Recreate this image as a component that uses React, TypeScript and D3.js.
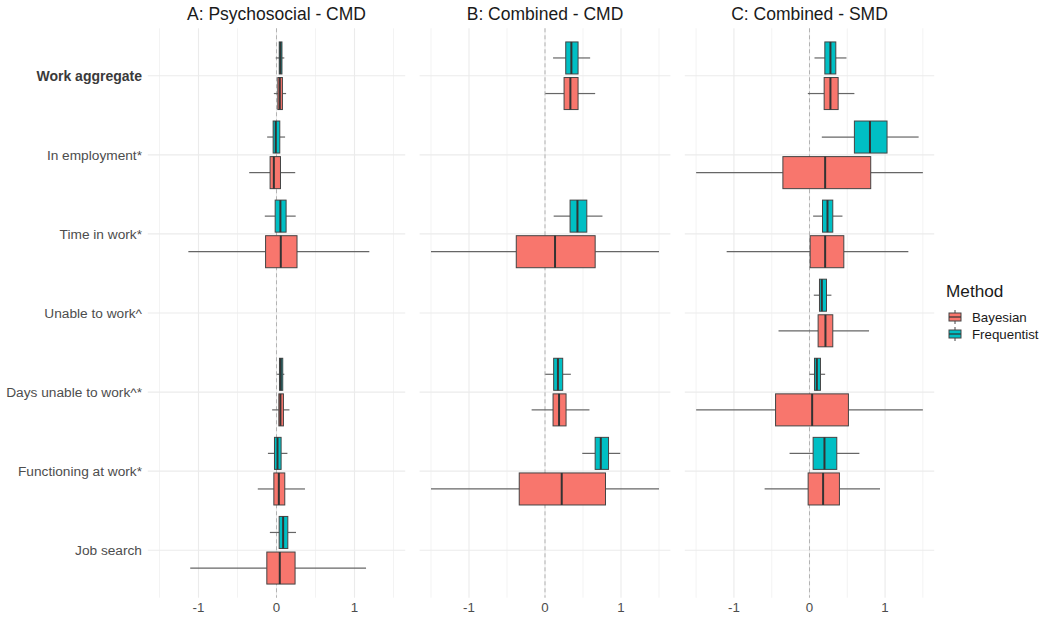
import React from 'react';
import * as d3 from 'd3';

// categories (top to bottom) and facets
const categories = [
  'Work aggregate',
  'In employment*',
  'Time in work*',
  'Unable to work^',
  'Days unable to work^*',
  'Functioning at work*',
  'Job search',
];
const panelTitles = ['A: Psychosocial - CMD', 'B: Combined - CMD', 'C: Combined - SMD'];
const methods = ['Bayesian', 'Frequentist'];
const methodColors = ['#F8766D', '#00BFC4'];
const xTicks = [-1, 0, 1];
const xMinor = [-1.5, -0.5, 0.5, 1.5];

// [min, q1, median, q3, max] per category, null = no estimate
type Box = [number, number, number, number, number] | null;

const psychBayesian: Box[] = [
  [-0.034, 0.017, 0.042, 0.076, 0.123],
  [-0.35, -0.082, -0.034, 0.051, 0.24],
  [-1.13, -0.14, 0.055, 0.263, 1.19],
  null,
  [-0.056, 0.03, 0.05, 0.089, 0.166],
  [-0.24, -0.034, 0.03, 0.106, 0.365],
  [-1.106, -0.124, 0.042, 0.238, 1.148],
];
const psychFrequentist: Box[] = [
  [-0.01, 0.035, 0.05, 0.07, 0.1],
  [-0.12, -0.043, -0.009, 0.042, 0.11],
  [-0.15, -0.017, 0.05, 0.123, 0.246],
  null,
  [0.008, 0.038, 0.055, 0.08, 0.1],
  [-0.11, -0.026, 0.013, 0.059, 0.14],
  [-0.085, 0.034, 0.085, 0.145, 0.25],
];
const cmdBayesian: Box[] = [
  [0.004, 0.251, 0.334, 0.435, 0.66],
  null,
  [-1.5, -0.378, 0.132, 0.66, 1.5],
  null,
  [-0.176, 0.106, 0.185, 0.277, 0.585],
  [-1.5, -0.339, 0.22, 0.796, 1.5],
  null,
];
const cmdFrequentist: Box[] = [
  [0.106, 0.273, 0.347, 0.435, 0.594],
  null,
  [0.114, 0.33, 0.427, 0.55, 0.756],
  null,
  [0.004, 0.114, 0.17, 0.233, 0.34],
  [0.49, 0.66, 0.734, 0.836, 0.99],
  null,
];
const smdBayesian: Box[] = [
  [-0.022, 0.194, 0.277, 0.379, 0.594],
  [-1.5, -0.352, 0.207, 0.81, 1.5],
  [-1.096, 0.009, 0.207, 0.454, 1.308],
  [-0.41, 0.114, 0.211, 0.308, 0.788],
  [-1.5, -0.449, 0.035, 0.515, 1.5],
  [-0.594, -0.018, 0.18, 0.396, 0.933],
  null,
];
const smdFrequentist: Box[] = [
  [0.066, 0.203, 0.277, 0.348, 0.489],
  [0.163, 0.594, 0.8, 1.026, 1.444],
  [0.048, 0.172, 0.238, 0.308, 0.436],
  [0.057, 0.132, 0.163, 0.225, 0.29],
  [0, 0.066, 0.097, 0.145, 0.207],
  [-0.264, 0.048, 0.198, 0.361, 0.66],
  null,
];

const panelData = [
  [psychBayesian, psychFrequentist],
  [cmdBayesian, cmdFrequentist],
  [smdBayesian, smdFrequentist],
];

const W = 1046;
const H = 617;
const font = '"Liberation Sans", Arial, Helvetica, sans-serif';
// measured panel extents (px)
const panelX: [number, number][] = [[147.8, 405.2], [419.6, 670.4], [684.8, 934.2]];
const panelTop = 28.3;
const panelBottom = 597.7;

const App: React.FC = () => {
  const y = d3.scalePoint<string>().domain(categories).range([panelTop, panelBottom]).padding(0.6);
  const step = y.step();
  const boxH = step * 0.405;
  const dodge = step * 0.225;

  return (
    <svg width={W} height={H} style={{ position: 'absolute', left: 0, top: 0, background: '#fff' }} fontFamily={font}>
      {/* y axis labels */}
      {categories.map((c, i) => (
        <text key={c} x={142} y={y(c)} dy="0.35em" textAnchor="end" fontSize={i === 0 ? 14 : 13.7}
          fill={i === 0 ? '#3A3A3A' : '#4D4D4D'} fontWeight={i === 0 ? 'bold' : 'normal'}>{c}</text>
      ))}

      {panelTitles.map((title, p) => {
        const x = d3.scaleLinear().domain([-1.65, 1.65]).range(panelX[p]);
        const [x0, x1] = panelX[p];
        return (
          <g key={title}>
            <text x={(x0 + x1) / 2} y={20} textAnchor="middle" fontSize={17.5} fill="#1A1A1A">{title}</text>
            {/* grid */}
            {xMinor.map(t => (
              <line key={'m' + t} x1={x(t)} x2={x(t)} y1={panelTop} y2={panelBottom} stroke="#F0F0F0" strokeWidth={0.8} />
            ))}
            {categories.map(c => (
              <line key={'h' + c} x1={x0} x2={x1} y1={y(c)} y2={y(c)} stroke="#EBEBEB" strokeWidth={1.1} />
            ))}
            {xTicks.map(t => (
              <line key={'g' + t} x1={x(t)} x2={x(t)} y1={panelTop} y2={panelBottom} stroke="#EBEBEB" strokeWidth={1.1} />
            ))}
            <line x1={x(0)} x2={x(0)} y1={panelTop} y2={panelBottom} stroke="#B3B3B3" strokeWidth={1} strokeDasharray="4,3" />
            {/* boxes */}
            {panelData[p].map((series, m) =>
              series.map((b, i) => {
                if (!b) return null;
                const cy = (y(categories[i]) as number) + (m === 0 ? dodge : -dodge);
                const [mn, q1, md, q3, mx] = b;
                return (
                  <g key={m + '-' + i}>
                    <line x1={x(mn)} x2={x(q1)} y1={cy} y2={cy} stroke="#666" strokeWidth={1.2} />
                    <line x1={x(q3)} x2={x(mx)} y1={cy} y2={cy} stroke="#666" strokeWidth={1.2} />
                    <rect x={x(q1)} y={cy - boxH / 2} width={x(q3) - x(q1)} height={boxH}
                      fill={methodColors[m]} stroke="#444" strokeWidth={1} />
                    <line x1={x(md)} x2={x(md)} y1={cy - boxH / 2} y2={cy + boxH / 2} stroke="#333" strokeWidth={2} />
                  </g>
                );
              })
            )}
            {/* x tick labels */}
            {xTicks.map(t => (
              <text key={'t' + t} x={x(t)} y={612} textAnchor="middle" fontSize={13.3} fill="#4D4D4D">{t}</text>
            ))}
          </g>
        );
      })}

      {/* legend */}
      <text x={946} y={297} fontSize={17.2} fill="#1A1A1A">Method</text>
      {methods.map((m, i) => {
        const cy = 317 + i * 17;
        return (
          <g key={m}>
            <line x1={955} x2={955} y1={cy - 7} y2={cy + 7} stroke="#444" strokeWidth={1} />
            <rect x={949} y={cy - 4} width={12} height={8} fill={methodColors[i]} stroke="#444" strokeWidth={1} />
            <line x1={949} x2={961} y1={cy} y2={cy} stroke="#333" strokeWidth={1.2} />
            <text x={972} y={cy} dy="0.35em" fontSize={13.3} fill="#1A1A1A">{m}</text>
          </g>
        );
      })}
    </svg>
  );
};

export default App;
